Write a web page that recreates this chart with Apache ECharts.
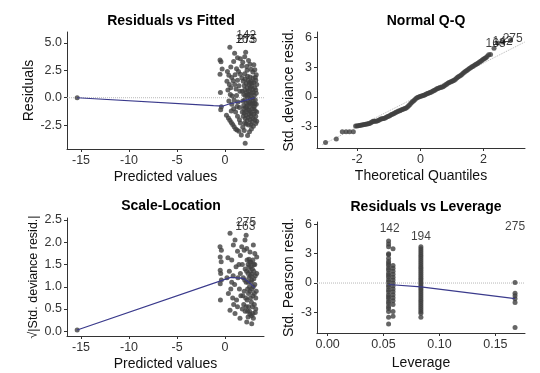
<!DOCTYPE html>
<html><head><meta charset="utf-8">
<script src="https://cdn.jsdelivr.net/npm/echarts@6/dist/echarts.min.js"></script>
<style>html,body{margin:0;padding:0;background:#fff}#c{width:540px;height:373px}</style>
</head><body><div id="c"></div>
<script>
// ---------- Panel 1: Residuals vs Fitted ----------
const rvfPoints = [
[-15.4,0],
[-0.52,3.45],[-0.42,3.28],[-0.3,2.62],[-0.52,2.15],[-0.48,0.48],[-0.38,-0.82],[-0.45,-1.1],
[0.15,-1.6],[0.35,-1.85],[0.5,-2.05],[0.65,-2.25],[0.8,-2.45],[0.95,-2.65],[1.1,-2.85],[1.25,-2.95],[1.45,-3.05],
[1.7,-3.4],[2.1,-4.15],[2.35,-3.45],[2.55,-3.1],[2.75,-2.85],[2.95,-2.6],[3.2,-2.35],[3.3,-2.15],[2.0,-3.0],[1.85,-2.7],
[0.5,4.6],[1.0,4.05],[1.3,3.65],[0.9,3.3],[2.15,4.15],[2.05,3.75],[2.45,3.4],[2.6,3.05],[1.6,3.55],[1.85,3.25],[3.1,2.55],[2.9,2.35],
[0.25,2.4],[0.4,2.05],[0.7,1.85],[1.05,2.1],[1.4,2.4],[1.6,2.15],[2.05,2.2],[2.3,2.5],[3.25,2.1],[2.7,2.6],[1.2,2.65],[0.6,2.8],[1.75,2.9],[2.25,2.85],[3.0,3.0],
[0.2,1.5],[0.45,1.2],[0.6,0.9],[0.85,1.55],[1.0,1.2],[1.15,0.8],[1.3,1.6],[1.45,1.1],[1.55,0.6],[0.3,0.7],[0.55,0.3],[0.75,0.15],[0.95,-0.2],[1.2,0.2],[1.35,-0.4],[1.5,-0.9],
[0.4,-0.3],[0.7,-0.6],[0.9,-1.0],[1.1,-1.3],[1.3,-1.7],[1.5,-2.0],[1.6,-2.3],[0.65,-1.2],[1.25,-0.8],
[1.75,1.8],[1.9,1.5],[2.0,1.1],[2.1,1.7],[2.2,1.3],[2.3,0.9],[2.4,1.6],[2.5,1.2],[2.6,0.8],[2.7,1.5],[2.8,1.1],[2.9,1.8],[3.0,1.4],[3.1,0.9],[3.2,1.6],[3.3,1.2],
[1.8,0.6],[1.95,0.3],[2.05,0.7],[2.15,0.2],[2.25,0.5],[2.35,0.1],[2.45,0.6],[2.55,0.3],[2.65,-0.1],[2.75,0.4],[2.85,0.0],[2.95,0.5],[3.05,0.2],[3.15,-0.2],[3.25,0.4],
[1.85,-0.3],[1.95,-0.7],[2.05,-0.2],[2.15,-0.9],[2.25,-0.5],[2.35,-1.1],[2.45,-0.4],[2.55,-0.8],[2.65,-1.3],[2.75,-0.6],[2.85,-1.0],[2.95,-0.3],[3.05,-0.8],[3.15,-1.2],[3.25,-0.6],
[1.8,-1.3],[1.9,-1.7],[2.0,-1.4],[2.1,-1.9],[2.2,-1.6],[2.3,-2.1],[2.4,-1.8],[2.5,-1.5],[2.6,-2.0],[2.7,-1.7],[2.8,-2.2],[2.9,-1.9],[3.0,-1.5],[3.1,-2.0],[3.2,-1.7],[3.3,-1.3],
[2.2,-2.4],[2.45,-2.5],[2.7,-2.45],[2.05,-2.3],[2.6,1.9],[2.35,1.95],[3.15,1.85],[2.85,-0.5],[2.5,-1.15],[2.65,0.95],[2.4,0.25],[2.75,-1.45],[3.0,-1.0],[2.2,-1.25],[2.55,1.4],[2.9,0.75],
[1.95,-1.0],[2.8,1.35],[3.2,0.7],[2.3,-0.75],[2.6,-0.45],[3.1,-0.55]
];
const rvfSmooth = [[-15.4,0],[-1.2,-0.72],[-0.2,-0.76],[0.5,-0.55],[1.5,-0.38],[2.5,-0.15],[3.1,0.0]];
const rvfLabels = [[2.2,5.62,'142'],[2.1,5.3,'163'],[2.3,5.3,'275']];

// ---------- Panel 2: Normal Q-Q ----------
const qqTheoretical = [-3.0,-2.66,-2.47,-2.35,-2.24,-2.12,
-2.05,-2.01,-1.97,-1.93,-1.89,-1.85,-1.81,-1.77,-1.73,-1.69,-1.65,-1.61,-1.57,-1.53,-1.49,-1.45,-1.41,-1.37,-1.33,-1.29,-1.25,-1.21,-1.17,-1.13,-1.09,-1.05,-1.01,-0.97,-0.93,-0.89,-0.85,-0.81,-0.77,-0.73,-0.69,-0.65,-0.61,-0.57,-0.53,-0.49,-0.45,-0.41,-0.37,-0.33,-0.29,-0.25,-0.21,-0.17,-0.13,-0.09,-0.05,-0.01,
0.03,0.07,0.11,0.15,0.19,0.23,0.27,0.31,0.35,0.39,0.43,0.47,0.51,0.55,0.59,0.63,0.67,0.71,0.75,0.79,0.83,0.87,0.91,0.95,0.99,1.03,1.07,1.11,1.15,1.19,1.23,1.27,1.31,1.35,1.39,1.43,1.47,1.51,1.55,1.59,1.63,1.67,1.71,1.75,1.79,1.83,1.87,1.91,1.95,1.99,2.03,2.07,2.11,2.16,
2.22,2.33,2.45,2.6,2.85];
const qqResid = [-4.6,-4.23,-3.5,-3.5,-3.5,-3.5,
-2.93,-2.92,-2.9,-2.88,-2.86,-2.82,-2.8,-2.78,-2.74,-2.72,-2.7,-2.68,-2.6,-2.52,-2.45,-2.45,-2.44,-2.42,-2.36,-2.3,-2.22,-2.2,-2.18,-2.14,-2.06,-2.0,-1.95,-1.88,-1.8,-1.73,-1.7,-1.62,-1.55,-1.48,-1.42,-1.38,-1.32,-1.25,-1.2,-1.15,-1.1,-1.0,-0.88,-0.75,-0.6,-0.48,-0.38,-0.25,-0.12,-0.05,0.0,0.05,
0.1,0.14,0.18,0.24,0.3,0.35,0.4,0.45,0.52,0.58,0.65,0.72,0.8,0.86,0.92,0.96,1.0,1.05,1.12,1.22,1.3,1.38,1.46,1.52,1.58,1.64,1.7,1.8,1.92,2.02,2.1,2.18,2.28,2.4,2.5,2.6,2.68,2.78,2.88,2.96,3.05,3.12,3.2,3.28,3.36,3.45,3.55,3.62,3.72,3.82,3.9,3.98,4.1,4.28,
4.3,4.92,5.45,5.55,5.7];
const qqRefLine = [[-3.1,-4.82],[3.3,5.55]];
const qqLabels = [[2.38,5.42,'163'],[2.6,5.62,'142'],[2.92,5.85,'275']];

// ---------- Panel 3: Scale-Location ----------
const slPoints = [
[-15.4,0.03],
[-0.52,1.9],[-0.38,1.82],[-0.5,1.67],[-0.4,1.56],[-0.5,1.37],[-0.45,1.3],[-0.38,1.15],[-0.5,1.07],[-0.48,0.7],
[0.52,2.2],[1.04,2.05],[2.08,2.05],[2.2,2.16],[0.87,1.94],[1.74,1.9],[2.26,1.86],[2.95,1.94],[3.3,1.67],[1.3,1.8],[1.6,1.7],[2.6,1.78],[3.1,1.75],[0.3,1.65],[0.7,1.6],[2.0,1.82],
[2.26,0.21],[2.78,0.17],[2.4,0.32],[1.56,0.29],[0.52,0.47],[1.04,0.4],[2.95,0.29],[2.1,0.45],[2.6,0.38],[3.15,0.42],[1.3,0.55],[0.8,0.75],[1.8,0.5],
[0.2,1.2],[0.45,1.35],[0.6,0.95],[0.85,1.25],[1.0,1.05],[1.15,1.45],[1.35,1.2],[1.5,0.95],[0.35,0.85],[0.7,1.1],[1.2,0.7],[1.45,1.5],[1.6,1.3],[0.9,0.6],[1.65,0.8],
[1.8,1.5],[1.9,1.2],[2.0,0.9],[2.1,1.4],[2.2,1.1],[2.3,0.7],[2.4,1.5],[2.5,1.2],[2.6,0.9],[2.7,1.45],[2.8,1.15],[2.9,0.8],[3.0,1.35],[3.1,1.05],[3.2,0.75],[3.3,1.3],
[1.85,0.8],[1.95,0.6],[2.05,1.15],[2.15,0.75],[2.25,1.35],[2.35,0.95],[2.45,0.55],[2.55,1.0],[2.65,1.25],[2.75,0.65],[2.85,1.4],[2.95,1.0],[3.05,0.6],[3.15,1.25],[3.25,0.9],
[2.3,1.6],[2.5,1.62],[2.7,1.55],[2.9,1.6],[3.1,1.5],[2.4,1.3],[2.6,1.35],[2.8,1.28],[3.0,1.18],[2.45,0.85],[2.65,0.75],[2.85,0.55],[3.05,0.85],[2.55,0.45],[2.75,0.35],[2.35,0.45],
[2.2,0.55],[3.2,0.5],[2.9,0.4],[2.5,1.45],[2.7,1.1],[2.6,1.55],[2.8,0.95],[2.4,1.1],[3.0,1.5]
];
const slSmooth = [[-15.4,0.03],[0.6,1.21],[1.9,1.19],[2.5,1.1],[3.1,0.98]];
const slLabels = [[2.12,2.34,'163'],[2.2,2.43,'275']];

// ---------- Panel 4: Residuals vs Leverage ----------
const levGroupA1 = 0.0545;
const levGroupA1Resid = [4.3,4.0,3.7,3.0,2.9,2.5,2.2,2.0,1.8,1.5,1.3,1.0,0.8,0.6,0.3,0.1,-0.2,-0.4,-0.7,-0.9,-1.2,-1.4,-1.6,-1.9,-2.1,-2.4,-2.6,-2.9,-3.5,-4.2];
const levGroupA2 = 0.0585;
const levGroupA2Resid = [3.5,1.8,1.5,1.2,0.9,0.6,0.3,0.0,-0.3,-0.6,-0.9,-1.2,-1.5,-1.8,-2.2,-2.9,-3.4];
const levGroupB = 0.0834;
const levGroupBResid = [3.7,3.5,3.3,3.1,2.9,2.7,2.5,2.3,2.1,1.9,1.7,1.5,1.3,1.1,0.9,0.7,0.5,0.3,0.1,-0.1,-0.3,-0.5,-0.7,-0.9,-1.1,-1.3,-1.5,-1.7,-1.9,-2.1,-2.3,-2.5,-2.7,-2.9,-3.1,-3.5];
const levGroupC = 0.1676;
const levGroupCResid = [0.05,-1.05,-1.3,-1.6,-2.0,-4.55];
const levSmooth = [[0.0545,-0.15],[0.0834,-0.4],[0.1676,-1.6]];
const levLabels = [[0.0555,5.55,'142'],[0.0834,4.7,'194'],[0.1676,5.8,'275']];

// ---------- tick labels ----------
const fittedTicks = [-15,-10,-5,0];
const rvfResidTicks = [-2.5,0,2.5,5];
const qqXTicks = [-2,0,2];
const stdTicks = [-3,0,3,6];
const slTicks = [0,0.5,1,1.5,2,2.5];
const levTicks = [0,0.05,0.1,0.15];

// ---------- build ----------
const FONT = "'Liberation Sans', Arial, sans-serif";
const PT = '#404040', LINE = '#3a3a8c', REF = '#b8b8b8';

function xAx(i, min, max, ticks, name, gap, dec) {
  return {type:'value', gridIndex:i, min, max, name, nameLocation:'middle', nameGap:gap,
    nameTextStyle:{fontFamily:FONT, fontSize:14, color:'#111'},
    axisLine:{show:true, onZero:false, lineStyle:{color:'#333', width:1}},
    axisTick:{show:true, length:3, customValues:ticks, lineStyle:{color:'#333'}},
    axisLabel:{customValues:ticks, margin:5, fontFamily:FONT, fontSize:12.5, color:'#333',
      formatter:v=> dec==null ? String(v) : Number(v).toFixed(dec)},
    splitLine:{show:false}};
}
function yAx(i, min, max, ticks, name, gap, dec, nfs) {
  return {type:'value', gridIndex:i, min, max, name, nameLocation:'middle', nameGap:gap, nameRotate:90,
    nameTextStyle:{fontFamily:FONT, fontSize:nfs||14, color:'#111'},
    axisLine:{show:true, onZero:false, lineStyle:{color:'#333', width:1}},
    axisTick:{show:true, length:3, customValues:ticks, lineStyle:{color:'#333'}},
    axisLabel:{customValues:ticks, margin:5, fontFamily:FONT, fontSize:12.5, color:'#333',
      formatter:v=> dec==null ? String(v) : Number(v).toFixed(dec)},
    splitLine:{show:false}};
}
function scatter(i, data) {
  return {type:'scatter', xAxisIndex:i, yAxisIndex:i, data, symbolSize:5,
    itemStyle:{color:PT}, silent:true, z:3};
}
function smooth(i, data) {
  return {type:'line', xAxisIndex:i, yAxisIndex:i, data, symbol:'none', smooth:false,
    lineStyle:{color:LINE, width:1.2}, z:4, silent:true};
}
function ref(i, data) {
  return {type:'line', xAxisIndex:i, yAxisIndex:i, data, symbol:'none',
    lineStyle:{color:REF, width:1, type:'dotted'}, z:2, silent:true};
}
function labels(i, data) {
  return {type:'scatter', xAxisIndex:i, yAxisIndex:i, data, symbolSize:0, z:5, silent:true,
    label:{show:true, position:'inside', formatter:p=>p.data[2], fontFamily:FONT, fontSize:12, color:'#111'}};
}
function title(text, cx, top) {
  return {text, left:cx, top, textAlign:'center',
    textStyle:{fontFamily:FONT, fontSize:14, fontWeight:'bold', color:'#000'}};
}

const x0min=-16.46, x0max=4.06;
const qqPts = qqTheoretical.map((q,k)=>[q, qqResid[k]]);
const levPts = [].concat(
  levGroupA1Resid.map(r=>[levGroupA1, r]),
  levGroupA2Resid.map(r=>[levGroupA2, r]),
  levGroupBResid.map(r=>[levGroupB, r]),
  levGroupCResid.map(r=>[levGroupC, r]));

const chart = echarts.init(document.getElementById('c'), null, {renderer:'canvas'});
chart.setOption({
  animation:false,
  backgroundColor:'#fff',
  title:[
    title('Residuals vs Fitted', 166, 9),
    title('Normal Q-Q', 421, 9),
    title('Scale-Location', 166, 194),
    title('Residuals vs Leverage', 421, 195)
  ],
  grid:[
    {left:67, top:32, width:197, height:117},
    {left:317, top:32, width:208, height:116},
    {left:67, top:218, width:197, height:118},
    {left:317, top:222, width:208, height:111}
  ],
  xAxis:[
    xAx(0, x0min, x0max, fittedTicks, 'Predicted values', 21, null),
    xAx(1, -3.27, 3.31, qqXTicks, 'Theoretical Quantiles', 21, null),
    xAx(2, x0min, x0max, fittedTicks, 'Predicted values', 21, null),
    xAx(3, -0.0095, 0.1765, levTicks, 'Leverage', 23, 2)
  ],
  yAxis:[
    yAx(0, -4.68, 6.0, rvfResidTicks, 'Residuals', 31, 1),
    yAx(1, -5.15, 6.57, stdTicks, 'Std. deviance resid.', 21, null),
    yAx(2, -0.106, 2.545, slTicks, '\u221A|Std. deviance resid.|', 27, 1, 12.5),
    yAx(3, -5.11, 6.24, stdTicks, 'Std. Pearson resid.', 21, null)
  ],
  series:[
    ref(0, [[x0min,0],[x0max,0]]),
    scatter(0, rvfPoints),
    smooth(0, rvfSmooth),
    labels(0, rvfLabels),
    ref(1, qqRefLine),
    scatter(1, qqPts),
    labels(1, qqLabels),
    scatter(2, slPoints),
    smooth(2, slSmooth),
    labels(2, slLabels),
    ref(3, [[-0.0095,0],[0.1765,0]]),
    scatter(3, levPts),
    smooth(3, levSmooth),
    labels(3, levLabels)
  ]
});
</script></body></html>
